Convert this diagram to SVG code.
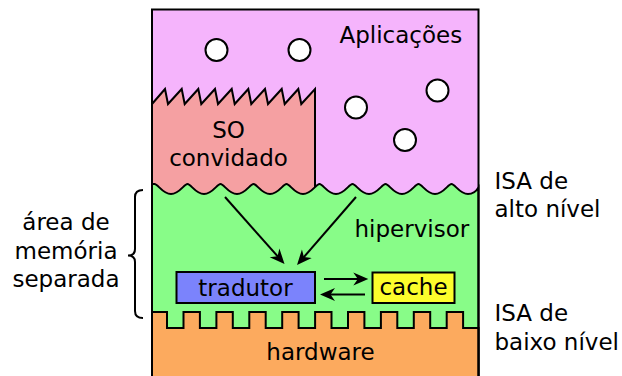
<svg xmlns="http://www.w3.org/2000/svg" width="622" height="376" viewBox="0 0 622 376">
<style>
.ln{stroke:#000;stroke-width:2;stroke-linejoin:miter}
.t{font-family:"DejaVu Sans",Verdana,sans-serif;font-size:23px;fill:#000}
.m{text-anchor:middle}
.c{fill:#fff;stroke:#000;stroke-width:2}
.arr{stroke:#000;stroke-width:2;fill:none;marker-end:url(#ah)}
</style>
<defs>
<marker id="ah" markerUnits="userSpaceOnUse" markerWidth="16" markerHeight="14" viewBox="0 0 16 14" refX="10" refY="7" orient="auto">
<path d="M15,7 L0,0.5 L4.5,7 L0,13.5 Z" fill="#000"/>
</marker>
</defs>
<rect width="622" height="376" fill="#fff"/>
<g id="aplicacoes">
<rect x="152" y="9.5" width="326.5" height="380" fill="#f5b4fc"/>
<circle class="c" cx="216.5" cy="50" r="11"/>
<circle class="c" cx="299.5" cy="50" r="11"/>
<circle class="c" cx="356" cy="107.5" r="11"/>
<circle class="c" cx="437.5" cy="90.5" r="11"/>
<circle class="c" cx="405" cy="140" r="11"/>
<text class="t" x="339.5" y="42.5">Aplicações</text>
</g>
<g id="so-convidado">
<path class="ln" fill="#f5a0a2" d="M152,104 L165,89 L168,104 L181.7,89 L184.7,104 L198.3,89 L201.3,104 L215,89 L218,104 L231.7,89 L234.7,104 L248.3,89 L251.3,104 L265,89 L268,104 L281.7,89 L284.7,104 L298.3,89 L301.3,104 L315,89 L315,200 L152,200 Z"/>
<text class="t m" x="228.5" y="137.5">SO</text>
<text class="t m" x="228.5" y="166">convidado</text>
</g>
<g id="hipervisor">
<path class="ln" fill="#88fc88" d="M152,184 L154.5,184 C158,184 162.5,194 171,194 C179.5,194 184,184 187.5,184 C191,184 195.5,194 204,194 C212.5,194 217,184 220.5,184 C224,184 228.5,194 237,194 C245.5,194 250,184 253.5,184 C257,184 261.5,194 270,194 C278.5,194 283,184 286.5,184 C290,184 294.5,194 303,194 C311.5,194 316,184 319.5,184 C323,184 327.5,194 336,194 C344.5,194 349,184 352.5,184 C356,184 360.5,194 369,194 C377.5,194 382,184 385.5,184 C389,184 393.5,194 402,194 C410.5,194 415,184 418.5,184 C422,184 426.5,194 435,194 C443.5,194 448,184 451.5,184 C455,184 459.5,194 468,194 C474,194 477,190 478.5,187.5 L478.5,390 L152,390 Z"/>
<text class="t" x="354.5" y="236.5">hipervisor</text>
</g>
<g id="hardware">
<path class="ln" fill="#fcaa5e" d="M152,312 L167,312 L167,328 L183.5,328 L183.5,312 L199.9,312 L199.9,328 L216.4,328 L216.4,312 L232.8,312 L232.8,328 L249.3,328 L249.3,312 L265.7,312 L265.7,328 L282.2,328 L282.2,312 L298.6,312 L298.6,328 L315.1,328 L315.1,312 L331.5,312 L331.5,328 L348,328 L348,312 L364.4,312 L364.4,328 L380.9,328 L380.9,312 L397.3,312 L397.3,328 L413.8,328 L413.8,312 L430.2,312 L430.2,328 L446.7,328 L446.7,312 L463.1,312 L463.1,328 L478.5,328 L478.5,390 L152,390 Z"/>
<text class="t m" x="320.5" y="360">hardware</text>
</g>
<rect x="152" y="9.5" width="326.5" height="380" fill="none" class="ln"/>
<g id="tradutor">
<rect class="ln" x="176.5" y="272" width="138.5" height="31" fill="#7b83fc"/>
<text class="t m" x="245.5" y="295.5">tradutor</text>
</g>
<g id="cache">
<rect class="ln" x="372.5" y="272.5" width="82" height="30.5" fill="#fcfc2c"/>
<text class="t m" x="413.5" y="295">cache</text>
</g>
<g id="connectors">
<line class="arr" x1="225" y1="197" x2="281.2" y2="260.3"/>
<line class="arr" x1="356" y1="197" x2="300.3" y2="261.2"/>
<line class="arr" x1="324" y1="279" x2="363.3" y2="279"/>
<line class="arr" x1="365" y1="294.5" x2="325" y2="294.5"/>
</g>
<g id="memoria">
<path class="ln" fill="none" d="M143,190 Q135,190 135,197 L135,249 Q135,255.5 128,255.5 Q135,255.5 135,262 L135,311 Q135,318 143,318"/>
<text class="t m" x="66" y="230">área de</text>
<text class="t m" x="66" y="258.5">memória</text>
<text class="t m" x="66" y="287">separada</text>
</g>
<g id="isa">
<text class="t" x="494.5" y="188.5">ISA de</text>
<text class="t" x="494.5" y="217">alto nível</text>
<text class="t" x="494.5" y="321">ISA de</text>
<text class="t" x="494.5" y="350">baixo nível</text>
</g>
</svg>
